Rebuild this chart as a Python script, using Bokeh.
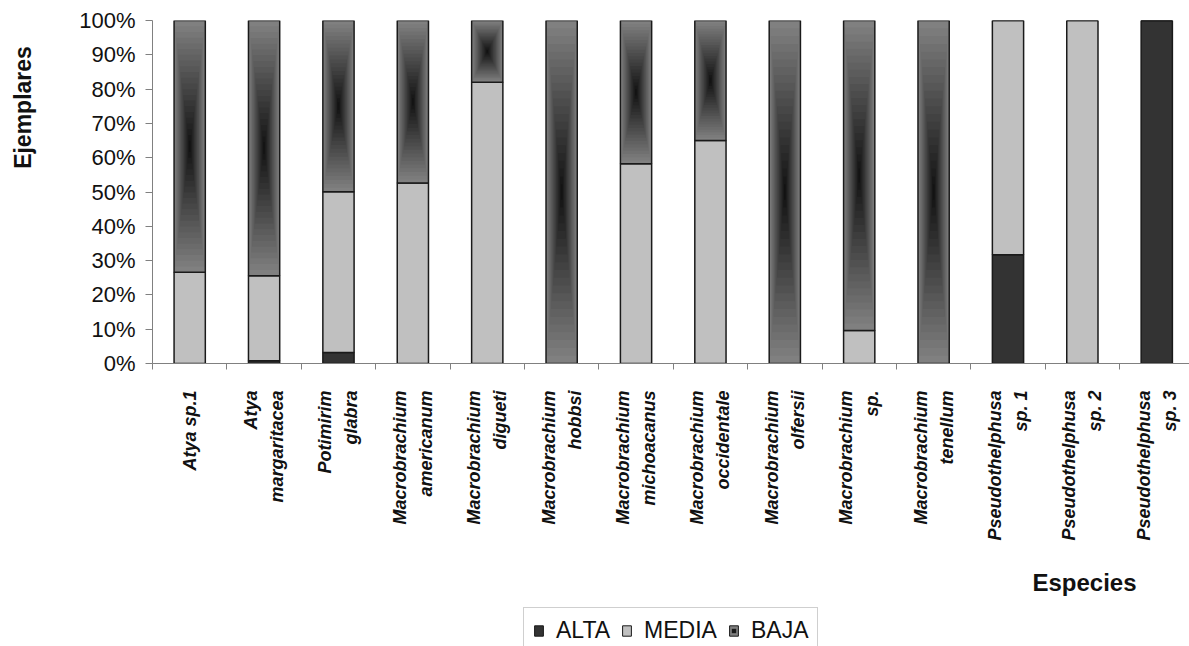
import math
import numpy as np
from bokeh.plotting import figure
from bokeh.layouts import column, row
from bokeh.models import (ColumnDataSource, FixedTicker, Range1d, Legend, LegendItem,
                          Label, PrintfTickFormatter)
from bokeh.embed import file_html
from bokeh.resources import INLINE

# ---------------- data ----------------
species = ["Atya sp.1", "Atya\nmargaritacea", "Potimirim\nglabra", "Macrobrachium\namericanum",
           "Macrobrachium\ndigueti", "Macrobrachium\nhobbsi", "Macrobrachium\nmichoacanus",
           "Macrobrachium\noccidentale", "Macrobrachium\nolfersii", "Macrobrachium\nsp.",
           "Macrobrachium\ntenellum", "Pseudothelphusa\nsp. 1", "Pseudothelphusa\nsp. 2",
           "Pseudothelphusa\nsp. 3"]
alta = [0, 0.8, 3.2, 0, 0, 0, 0, 0, 0, 0, 0, 31.7, 0, 100]
media = [26.6, 24.8, 46.9, 52.6, 82.0, 0, 58.2, 65.0, 0, 9.6, 0, 68.3, 100, 0]
baja = [73.4, 74.4, 49.9, 47.4, 18.0, 100, 41.8, 35.0, 100, 90.4, 100, 0, 0, 0]
y_ticks = list(range(0, 101, 10))
series_names = ["ALTA", "MEDIA", "BAJA"]
y_title = "Ejemplares"
x_title = "Especies"

# ---------------- styling ----------------
C_ALTA = "#333333"
C_MEDIA = "#c0c0c0"
C_BAJA = "#808080"
EDGE = "#1a1a1a"
AXIS = "#808080"
TXT = "#111111"
BAR_W = 0.42
FONT = "Liberation Sans"

W, H = 1189, 646
LEFT_W = 46
TOP_H = 560
FRAME_TOP, FRAME_BOTTOM = 20, 363

n = len(species)
centers = np.arange(n) + 0.5
a = np.array(alta, dtype=float)
m = np.array(media, dtype=float)
b = np.array(baja, dtype=float)

alta_src = ColumnDataSource(dict(x=centers, bottom=np.zeros(n), top=a))
media_src = ColumnDataSource(dict(x=centers, bottom=a, top=a + m))
baja_src = ColumnDataSource(dict(x=centers, bottom=a + m, top=a + m + b))

# ---------------- main chart ----------------
p = figure(width=W - LEFT_W, height=TOP_H, x_range=Range1d(0, 13.94), y_range=Range1d(0, 100),
           output_backend="svg", toolbar_location=None,
           min_border_left=152 - LEFT_W, min_border_right=0, min_border_top=FRAME_TOP,
           min_border_bottom=TOP_H - FRAME_BOTTOM)
p.outline_line_color = None

p.vbar(x="x", bottom="bottom", top="top", width=BAR_W, source=alta_src,
       fill_color=C_ALTA, line_color=EDGE, line_width=1.5)
p.vbar(x="x", bottom="bottom", top="top", width=BAR_W, source=media_src,
       fill_color=C_MEDIA, line_color=EDGE, line_width=1.5)
p.vbar(x="x", bottom="bottom", top="top", width=BAR_W, source=baja_src,
       fill_color=C_BAJA, line_color=None)

# "from center" gradient of the BAJA segments: nested boxes shrinking to the centre
N = 22
gl, gr, gb, gt, gc = [], [], [], [], []
for i in range(n):
    if b[i] <= 0:
        continue
    bot = a[i] + m[i]
    top = bot + b[i]
    cy = (bot + top) / 2
    hh = (top - bot) / 2
    hw = BAR_W / 2
    for k in range(1, N):
        s = 1 - k / N
        g = int(round(14 + 114 * s))
        gl.append(centers[i] - hw * s)
        gr.append(centers[i] + hw * s)
        gb.append(cy - hh * s)
        gt.append(cy + hh * s)
        gc.append("#%02x%02x%02x" % (g, g, g))
grad_src = ColumnDataSource(dict(left=gl, right=gr, bottom=gb, top=gt, color=gc))
p.quad(left="left", right="right", bottom="bottom", top="top", source=grad_src,
       fill_color="color", line_color=None)
p.vbar(x="x", bottom="bottom", top="top", width=BAR_W, source=baja_src,
       fill_color=None, line_color=EDGE, line_width=1.5)

xa = p.xaxis[0]
xa.ticker = FixedTicker(ticks=list(centers), minor_ticks=list(range(0, n + 1)))
xa.major_label_overrides = {float(c): s for c, s in zip(centers, species)}
xa.major_label_orientation = math.pi / 2
xa.major_label_standoff = 21
xa.major_tick_line_color = None
xa.major_tick_out = 0
xa.major_tick_in = 0
xa.minor_tick_line_color = AXIS
xa.minor_tick_out = 6
xa.minor_tick_in = 0
xa.axis_line_color = AXIS
xa.major_label_text_font = FONT
xa.major_label_text_font_size = "18px"
xa.major_label_text_font_style = "bold italic"
xa.major_label_text_color = TXT
xa.major_label_text_line_height = 1.3

ya = p.yaxis[0]
ya.ticker = FixedTicker(ticks=y_ticks)
ya.formatter = PrintfTickFormatter(format="%d%%")
ya.major_tick_out = 7
ya.major_tick_in = 0
ya.minor_tick_line_color = None
ya.major_tick_line_color = AXIS
ya.axis_line_color = AXIS
ya.major_label_standoff = 10
ya.major_label_text_font = FONT
ya.major_label_text_font_size = "22px"
ya.major_label_text_color = TXT

p.xgrid.grid_line_color = None
p.ygrid.ticker = FixedTicker(ticks=[100])
p.ygrid.grid_line_color = "#a6a6a6"

# ---------------- left strip: y title (its frame is aligned with the chart's frame) ----------------
left = figure(width=LEFT_W, height=TOP_H, x_range=Range1d(0, 1), y_range=Range1d(0, 1),
              output_backend="svg", toolbar_location=None, x_axis_type=None, y_axis_type=None,
              min_border=0)
left.outline_line_color = None
left.grid.visible = False
left.add_layout(Label(x=22, y=FRAME_BOTTOM - 107, x_units="screen", y_units="screen",
                      text=y_title, angle=math.pi / 2, text_align="center",
                      text_baseline="middle", text_font=FONT, text_font_size="23px",
                      text_font_style="bold", text_color=TXT))

# ---------------- bottom strip: x title and legend ----------------
BOT_H = H - TOP_H
bottom = figure(width=W, height=BOT_H, x_range=Range1d(0, 1), y_range=Range1d(0, 1),
                output_backend="svg", toolbar_location=None, x_axis_type=None, y_axis_type=None,
                min_border=0)
bottom.outline_line_color = None
bottom.grid.visible = False
bottom.add_layout(Label(x=1084, y=H - 582, x_units="screen", y_units="screen", text=x_title,
                        text_align="center", text_baseline="middle", text_font=FONT,
                        text_font_size="24px", text_font_style="bold", text_color=TXT))

# legend keys (kept outside the visible range of this strip)
key_src = ColumnDataSource(dict(x=[-5.0], y=[-5.0], bottom=[-5.0], top=[-4.0]))
k_alta = bottom.vbar(x="x", bottom="bottom", top="top", width=0.5, source=key_src,
                     fill_color=C_ALTA, line_color=EDGE, line_width=1)
k_media = bottom.vbar(x="x", bottom="bottom", top="top", width=0.5, source=key_src,
                      fill_color=C_MEDIA, line_color=EDGE, line_width=1)
k_baja = bottom.vbar(x="x", bottom="bottom", top="top", width=0.5, source=key_src,
                     fill_color=C_BAJA, line_color=EDGE, line_width=1)
k_dot = bottom.scatter(x="x", y="y", source=key_src, marker="square", size=4,
                       fill_color="#1a1a1a", line_color=None)

legend = Legend(items=[LegendItem(label=series_names[0], renderers=[k_alta]),
                       LegendItem(label=series_names[1], renderers=[k_media]),
                       LegendItem(label=series_names[2], renderers=[k_baja, k_dot])],
                orientation="horizontal", location=(523, -8),
                glyph_width=11, glyph_height=13, label_standoff=12, spacing=11,
                padding=9, margin=0, border_line_color="#a0a0a0", border_line_width=1,
                label_text_font=FONT, label_text_font_size="23px", label_text_color=TXT,
                background_fill_color="white", background_fill_alpha=1)
bottom.add_layout(legend)

layout = column(row(left, p, spacing=0), bottom, spacing=0)

open("out.html", "w").write(file_html(layout, INLINE))
